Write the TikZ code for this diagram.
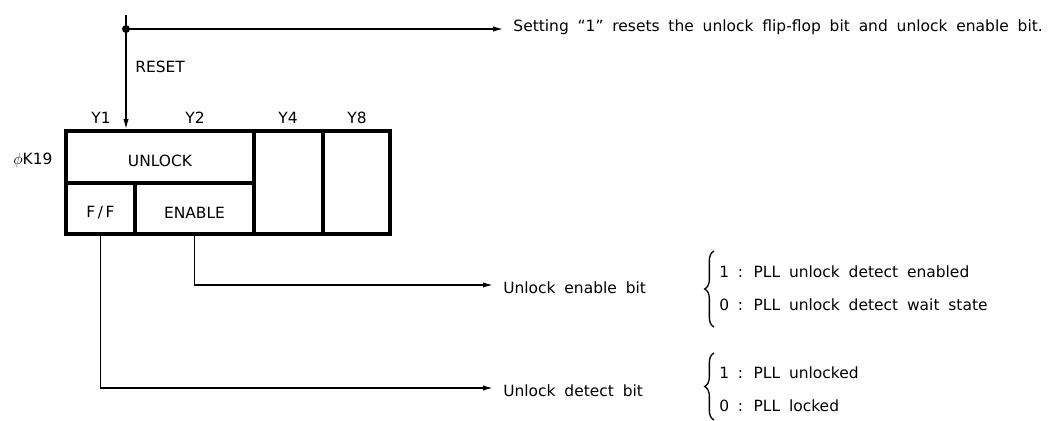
\documentclass[tikz,border=0pt]{standalone}
\usepackage{fontspec}
\setmainfont{DejaVu Sans}[WordSpace=1.8]
\usetikzlibrary{arrows.meta,decorations.pathreplacing,fit}
\begin{document}
\begin{tikzpicture}[x=0.75pt,y=-0.75pt,
  lbl/.style={font=\fontsize{11.6}{14}\selectfont, inner sep=0pt},
  cell/.style={draw, line width=2.7pt, inner sep=0pt},
  conn/.style={line width=1.1pt},
  arr/.style={conn,-{Latex[length=7.5pt,width=4pt]}},
  brc/.style={line width=1pt, decorate, decoration={brace, amplitude=7pt}}
]
\useasboundingbox (0,0) rectangle (1050,421);

% register cells
\node[cell, fit={(66,131) (254,183)}] (unlockc) {};
\node[cell, fit={(66,183) (135,234)}] (ffc) {};
\node[cell, fit={(135,183) (254,234)}] (enc) {};
\node[cell, fit={(254,131) (323,234)}] (y4c) {};
\node[cell, fit={(323,131) (390,234)}] (y8c) {};

\node[lbl] (unlockt) at (160,161) {UNLOCK};
\node[lbl] (fft) at (100.5,213) {F\,/\,F};
\node[lbl] (ent) at (194.5,213) {ENABLE};

\node[lbl] (y1) at (101,118) {Y1};
\node[lbl] (y2) at (195,118) {Y2};
\node[lbl] (y4) at (288,118) {Y4};
\node[lbl] (y8) at (357,118) {Y8};
\node[lbl] (k19) at (33,160) {$\phi$K19};

% reset
\coordinate (rtop) at (126,15);
\coordinate (dot) at (126,29);
\node[lbl, anchor=west] (reset) at (135,67) {RESET};
\draw[arr] (rtop) -- (dot |- unlockc.north);
\fill (dot) circle (4);
\node[lbl, anchor=east] (sett) at (1043,27) {Setting “1” resets the unlock flip-flop bit and unlock enable bit.};
\draw[arr, shorten >=7.5pt] (dot) -- (dot -| sett.west);

% outputs
\node[lbl, anchor=west] (ue) at (503,288) {Unlock enable bit};
\node[lbl, anchor=west] (ud) at (503,391) {Unlock detect bit};
\draw[arr, shorten >=7.5pt] (enc.south) |- ([yshift=2.25pt]ue.west);
\draw[arr, shorten >=7.5pt] (ffc.south) |- ([yshift=2.25pt]ud.west);

% value descriptions
\node[lbl, anchor=west] (e1) at (719,272) {1 : PLL unlock detect enabled};
\node[lbl, anchor=west] (e0) at (719,305) {0 : PLL unlock detect wait state};
\node[lbl, anchor=west] (d1) at (719,373) {1 : PLL unlocked};
\node[lbl, anchor=west] (d0) at (719,406) {0 : PLL locked};
\draw[brc] (714,327) -- (714,251);
\draw[brc] (714,420) -- (714,353);
\end{tikzpicture}
\end{document}
